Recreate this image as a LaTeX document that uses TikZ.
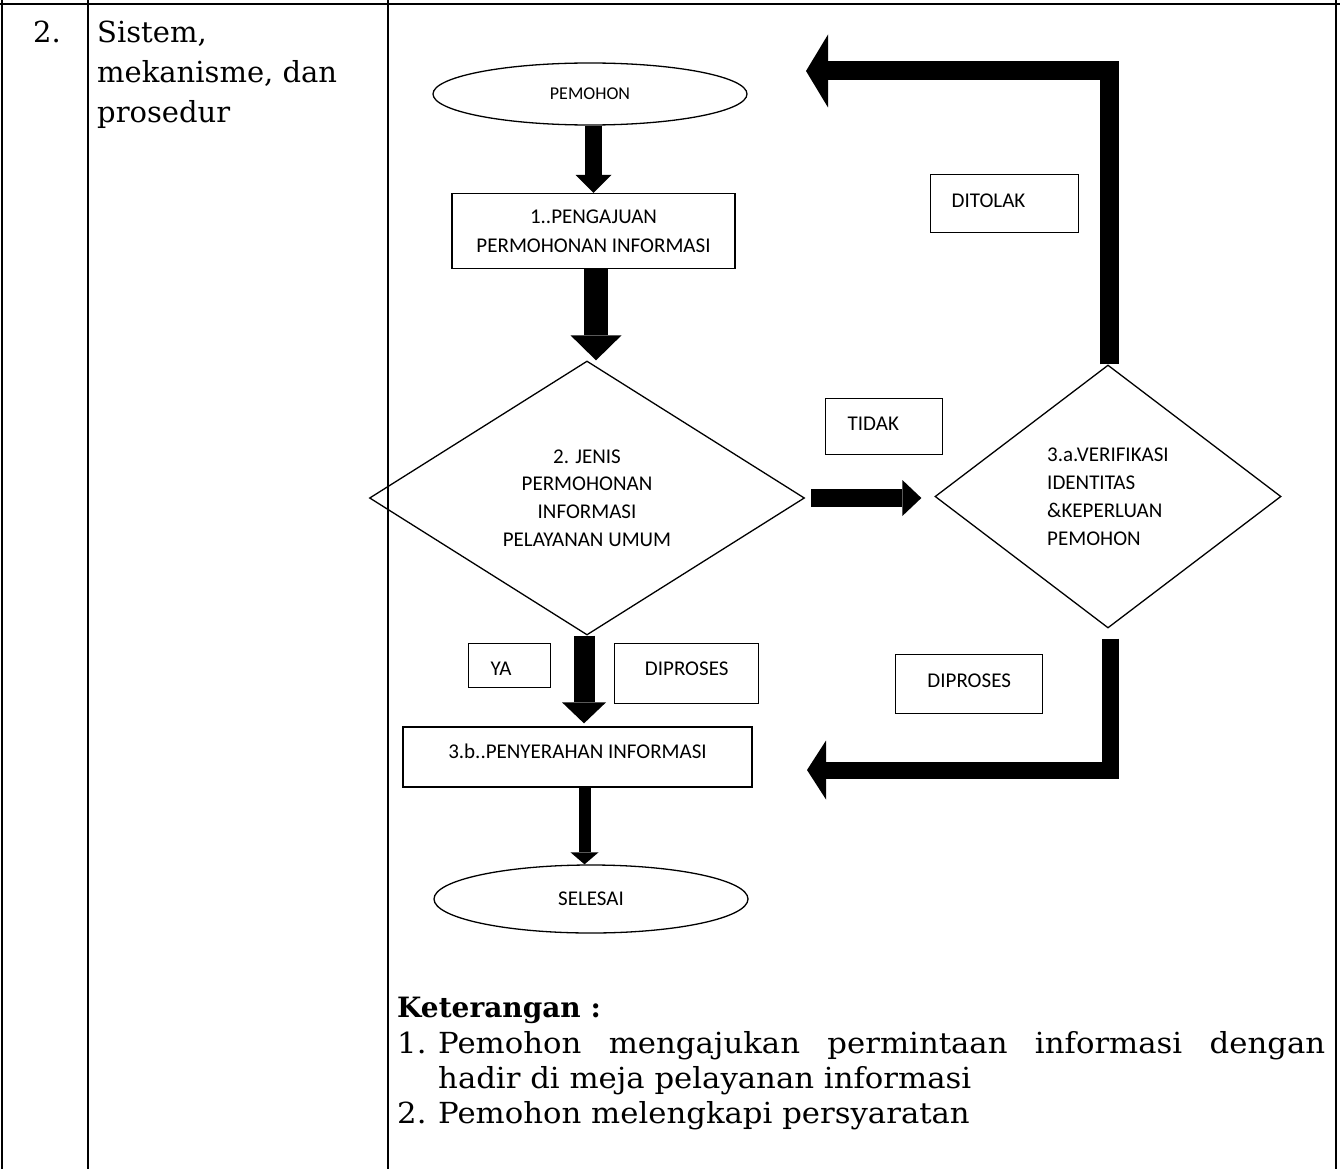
\documentclass[tikz,border=0pt]{standalone}
\usepackage{fontspec}
\setmainfont{DejaVu Serif}
\newfontfamily\flowfont{Carlito}
\newfontfamily\notefont[FakeStretch=1.06]{DejaVu Serif}
\usetikzlibrary{shapes.geometric,arrows.meta,calc}

\tikzset{
  grid line/.style={line width=2.4pt},
  cell text/.style={inner sep=0pt, anchor=base west, font=\fontsize{29}{40}\selectfont},
  note text/.style={inner sep=0pt, anchor=base west, font=\notefont\fontsize{29}{35}\selectfont},
  flow/.style={font=\flowfont\fontsize{21}{28}\selectfont},
  outline/.style={draw, line width=1.3pt},
  procbox/.style={flow, outline, rectangle, inner sep=0pt},
  terminal/.style={flow, outline, ellipse, inner sep=0pt, minimum width=314pt},
  decision/.style={flow, outline, diamond, inner sep=0pt},
  tag/.style={flow, draw, line width=1.4pt, rectangle, inner ysep=0pt, anchor=north west},
  block/.style n args={3}{line width=#1, line join=miter,
    -{Triangle[width=#2, length=#3, line width=0pt]}},
}

\begin{document}
\begin{tikzpicture}[x=1pt, y=-1pt]
\useasboundingbox (0,0) rectangle (1340,1169);

% table frame
\draw[grid line] (0,4) -- (1340,4);
\foreach \x in {2,88,388,1336} \draw[grid line] (\x,0) -- (\x,1169);

% row heading
\node[cell text] (num) at (33,43) {2.};
\node[cell text] (aspA) at (97,43) {Sistem,};
\node[cell text] (aspB) at (97,83) {mekanisme, dan};
\node[cell text] (aspC) at (97,123) {prosedur};

% flowchart nodes
\node[terminal, minimum height=62pt, font=\flowfont\fontsize{18}{22}\selectfont] (pem) at (590,94) {PEMOHON};
\node[procbox, minimum width=283pt, minimum height=75pt, align=center,
      font=\flowfont\fontsize{21}{29}\selectfont] (req) at (593.5,231)
      {1..PENGAJUAN\\PERMOHONAN INFORMASI};
\node[decision, minimum width=435pt, minimum height=274pt, aspect=1.6, align=center,
      font=\flowfont\fontsize{21}{27.7}\selectfont]
      (kind) at (587,498) {2. JENIS\\PERMOHONAN\\INFORMASI\\PELAYANAN UMUM};
\node[decision, minimum width=346pt, minimum height=263pt, aspect=1.3, align=left,
      font=\flowfont\fontsize{21}{28}\selectfont]
      (check) at (1108,496.5) {3.a.VERIFIKASI\\IDENTITAS\\\&KEPERLUAN\\PEMOHON};
\node[procbox, minimum width=349pt, text height=31pt, text depth=29pt]
      (give) at (577.5,757) {3.b..PENYERAHAN INFORMASI};
\node[terminal, minimum height=68pt] (done) at (591,899) {SELESAI};

% labels on the branches
\node[tag, inner xsep=21pt, text width=106pt, text height=33pt, text depth=25pt, align=left]
      (rejTag) at (930,174) {DITOLAK};
\node[tag, inner xsep=22pt, text width=73pt, text height=32pt, text depth=24pt, align=left]
      (noTag) at (825,398) {TIDAK};
\node[tag, inner xsep=22pt, text width=38pt, text height=32pt, text depth=12pt, align=left]
      (yesTag) at (468,643) {YA};
\node[tag, inner xsep=29pt, text width=86pt, text height=32pt, text depth=28pt, align=center]
      (procTagA) at (614,643) {DIPROSES};
\node[tag, inner xsep=30pt, text width=87pt, text height=33pt, text depth=26pt, align=center]
      (procTagB) at (895,654) {DIPROSES};

% block arrows
\draw[block={17pt}{36pt}{18pt}] (req.north |- pem.south) -- (req.north);
\draw[block={24pt}{51pt}{25pt}] ($(req.south)+(2.5,0)$) -- ($(req.south |- kind.north)+(2.5,0)$);
\draw[block={18pt}{36pt}{19pt}, shorten <=6pt, shorten >=13pt] (kind.east) -- (kind.east -| check.west);
\draw[block={21pt}{44pt}{21pt}, shorten >=3pt] ($(kind.south)+(-3,0)$) -- ($(kind.south |- give.north)+(-3,0)$);
\draw[block={12pt}{28pt}{12pt}] ($(give.south)+(7,0)$) -- ($(give.south |- done.north)+(7,0)$);
\coordinate (rejEnd) at (806,71);
\draw[block={19pt}{73pt}{22pt}] ($(check.north)+(1.5,0)$) |- (rejEnd);
\coordinate (procEnd) at (807,770);
\draw[block={17pt}{59pt}{19pt}] ($(check.south)+(2,10)$) |- (procEnd);

% notes
\node[note text, font=\bfseries\fontsize{28}{35}\selectfont] (noteHead) at (397,1017) {Keterangan :};
\node[note text] (n1) at (397,1053) {1.};
\node[note text] (n1a) at (438,1053) {\makebox[887pt][s]{Pemohon mengajukan permintaan informasi dengan}};
\node[note text] (n1b) at (438,1088) {hadir di meja pelayanan informasi};
\node[note text] (n2) at (397,1123) {2.};
\node[note text] (n2a) at (438,1123) {Pemohon melengkapi persyaratan};
\end{tikzpicture}
\end{document}
